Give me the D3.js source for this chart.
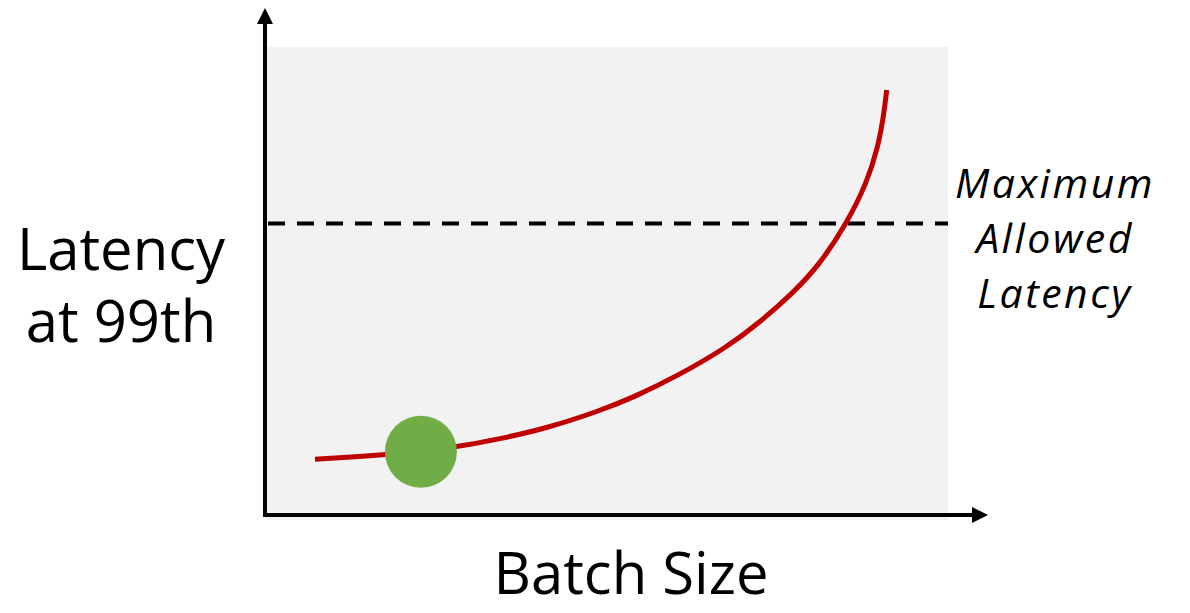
<!DOCTYPE html>
<html>
<head>
<meta charset="utf-8">
<script src="https://cdn.jsdelivr.net/npm/d3@7"></script>
<style>
  html, body { margin: 0; padding: 0; background: #ffffff; }
  svg { display: block; }
  text { font-family: "Open Sans", "Noto Sans", sans-serif; fill: #000; }
</style>
</head>
<body>
<svg id="chart" width="1190" height="613"></svg>
<script>
// Batch size (arbitrary units) against 99th-percentile latency (arbitrary units)
const batchSize = [7.05, 17.33, 27.86, 34.21, 41.56, 48.9, 53.79, 60.65, 67.5, 72.39, 77.28, 81.2, 85.12, 88.06, 89.76, 90.6, 91.0];
const latency   = [11.9, 12.82, 14.47, 16.24, 18.74, 22.29, 25.1, 30.0, 35.8, 41.2, 47.5, 53.6, 62.33, 70.88, 78.7, 85.83, 90.81];

// Current operating point and the latency limit
const operatingBatch = [22.6];
const operatingLatency = [13.5];
const maxLatency = [62.3];

const yTitle = ["Latency", "at 99th"];
const xTitle = ["Batch Size"];
const limitLabel = ["Maximum", "Allowed", "Latency"];

const svg = d3.select("#chart");

const x = d3.scaleLinear().domain([0, 100]).range([267, 948]);
const y = d3.scaleLinear().domain([0, 100]).range([515, 47]);

// Plot background
svg.append("rect")
  .attr("x", x(0) - 2)
  .attr("y", y(100))
  .attr("width", x(100) - x(0) + 2)
  .attr("height", y(0) - y(100) + 5)
  .attr("fill", "#f2f2f2");

// Arrowhead
const defs = svg.append("defs");
defs.append("marker")
  .attr("id", "arrow")
  .attr("markerUnits", "userSpaceOnUse")
  .attr("viewBox", "0 0 16 16")
  .attr("refX", 0).attr("refY", 8)
  .attr("markerWidth", 16).attr("markerHeight", 16)
  .attr("orient", "auto")
  .append("path")
  .attr("d", "M0,0 L16,8 L0,16 Z")
  .attr("fill", "#000");

// Axes: lines only, no ticks
const xAxis = d3.axisBottom(x).tickValues([]).tickSizeOuter(0);
const yAxis = d3.axisLeft(y).tickValues([]).tickSizeOuter(0);

const gx = svg.append("g").attr("transform", `translate(0,${y(0)})`).call(xAxis);
gx.select(".domain").remove();
gx.append("line")
  .attr("x1", x(0) - 4).attr("x2", 972)
  .attr("y1", 0).attr("y2", 0)
  .attr("stroke", "#000").attr("stroke-width", 4)
  .attr("marker-end", "url(#arrow)");

const gy = svg.append("g").attr("transform", `translate(${x(0) - 2},0)`).call(yAxis);
gy.select(".domain").remove();
gy.append("line")
  .attr("x1", 0).attr("x2", 0)
  .attr("y1", y(0) + 2).attr("y2", 24)
  .attr("stroke", "#000").attr("stroke-width", 4)
  .attr("marker-end", "url(#arrow)");

// Latency limit
svg.append("line")
  .attr("x1", x(0) + 1).attr("x2", x(100))
  .attr("y1", y(maxLatency[0])).attr("y2", y(maxLatency[0]))
  .attr("stroke", "#000").attr("stroke-width", 4)
  .attr("stroke-dasharray", "17,12");

// Latency curve (smoothed through the sampled points)
const pts = batchSize.map((b, i) => [b, latency[i]]);
const line = d3.line().x(d => x(d[0])).y(d => y(d[1])).curve(d3.curveBasis);
svg.append("path")
  .datum(pts)
  .attr("d", line)
  .attr("fill", "none")
  .attr("stroke", "#c00000")
  .attr("stroke-width", 5);

// Operating point
svg.selectAll("circle.op")
  .data(operatingBatch.map((b, i) => [b, operatingLatency[i]]))
  .join("circle")
  .attr("class", "op")
  .attr("cx", d => x(d[0]))
  .attr("cy", d => y(d[1]))
  .attr("r", 36)
  .attr("fill", "#70ad47");

// Axis titles
svg.append("g").selectAll("text")
  .data(yTitle)
  .join("text")
  .attr("x", 121)
  .attr("y", (d, i) => 270 + i * 72)
  .attr("text-anchor", "middle")
  .attr("font-size", 58)
  .text(d => d);

svg.append("text")
  .attr("x", 631)
  .attr("y", 594)
  .attr("text-anchor", "middle")
  .attr("font-size", 58)
  .text(xTitle[0]);

// Limit label
svg.append("g").selectAll("text")
  .data(limitLabel)
  .join("text")
  .attr("x", 1055)
  .attr("y", (d, i) => 198 + i * 55)
  .attr("text-anchor", "middle")
  .attr("font-size", 41)
  .attr("letter-spacing", 2.5)
  .attr("font-style", "italic")
  .text(d => d);
</script>
</body>
</html>
